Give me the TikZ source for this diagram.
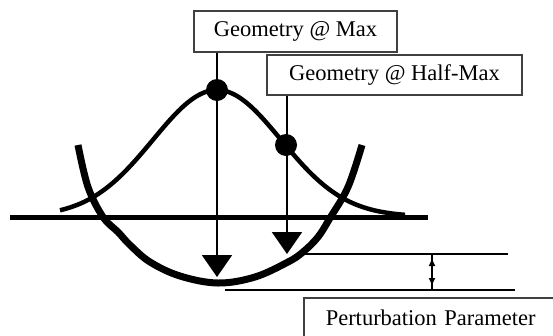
\documentclass[tikz,border=0pt]{standalone}
\usepackage{fontspec}
\setmainfont{Liberation Serif}
\usetikzlibrary{arrows.meta}
\begin{document}
\begin{tikzpicture}[x=1pt,y=-1pt,
  box/.style={draw=black!75, line width=1.5pt, fill=white, inner sep=0pt, font=\fontsize{22.5}{27}\selectfont},
  dot/.style={circle, fill=black, minimum size=22pt, inner sep=0pt},
  probe/.style={line width=2pt, -{Triangle[width=30pt,length=22pt]}},
  thinline/.style={line width=2.5pt},
  gap/.style={line width=1.5pt, {Triangle[width=6pt,length=7pt]}-{Triangle[width=6pt,length=7pt]}}]
\useasboundingbox (0,0) rectangle (553,335);
\clip (0,0) rectangle (553,335);
% boxes
\node[box, minimum width=203pt, minimum height=41pt] (max) at (295.5,31.5) {Geometry @ Max};
\node[box, minimum width=255pt, minimum height=40pt] (half) at (394.5,75) {Geometry @ Half-Max};
\node[box, anchor=north west, inner xsep=22pt, inner ysep=12.6pt, text width=260pt, align=left] (pert) at (303,297) {Perturbation Parameter};
% axis
\coordinate (axL) at (10,217);
\coordinate (axR) at (428,217);
\draw[line width=5pt] (axL) -- (axR);
% gaussian
\draw[line width=4.5pt, line join=round] plot[domain=60:405, samples=150] (\x, {216.5-126.5*exp(-0.5*((\x-217)/64)^2)});
% parabola
\draw[line width=7pt, line join=round] plot[smooth, tension=0.6] coordinates {(78,145) (88,187) (103,217) (118,232) (130,245) (150,262) (180,276) (218,283) (255,277) (288,262) (303,252) (318,237) (330,218) (348,187) (362,145)};
% reference lines
\coordinate (u1) at (303,254);
\coordinate (u2) at (508,254);
\coordinate (l1) at (225,290);
\coordinate (l2) at (515,290);
\draw[thinline] (u1) -- (u2);
\draw[thinline] (l1) -- (l2);
\coordinate (g1) at (432,254);
\coordinate (g2) at (432,290);
\draw[line width=1.5pt] (g1) -- (g2);
\coordinate (ga) at (432,259);
\coordinate (gb) at (432,285);
\draw[gap] (ga) -- (gb);
% probes
\coordinate (tip1) at (217,277);
\coordinate (tip2) at (287,254);
\draw[probe] (max.south -| tip1) -- (tip1);
\draw[probe] (half.south -| tip2) -- (tip2);
% dots
\node[dot] (pk) at (217,90) {};
\node[dot] (hm) at (286,145) {};
\end{tikzpicture}
\end{document}
